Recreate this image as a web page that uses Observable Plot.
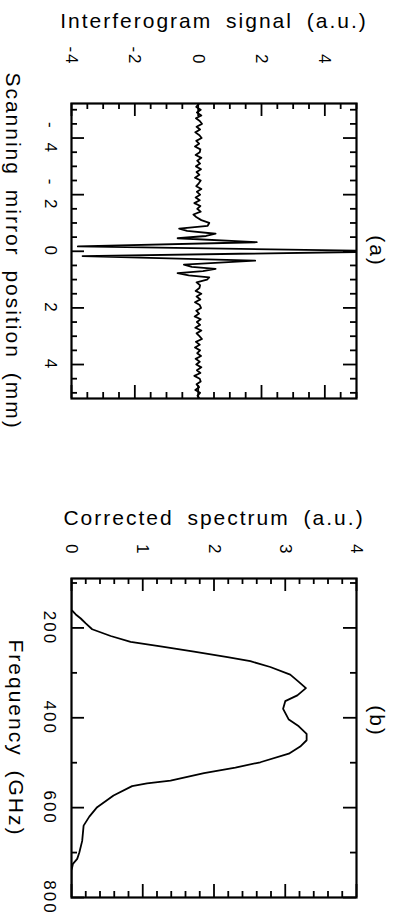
<!DOCTYPE html>
<html><head><meta charset="utf-8">
<script src="https://cdn.jsdelivr.net/npm/d3@7"></script>
<script src="https://cdn.jsdelivr.net/npm/@observablehq/plot@0.6"></script>
<style>
html,body{margin:0;padding:0;background:#fff;}
#chart svg{display:block;}
</style></head><body><div id="chart"></div>
<script>
// Panel (a): interferogram
const mirrorPositionMm = [
  -5.25,-5.2,-5.1,-5.0,-4.9,-4.8,-4.7,-4.6,-4.5,-4.4,-4.3,-4.2,-4.1,-4.0,-3.9,-3.8,-3.7,-3.6,-3.5,-3.4,-3.3,
  -3.2,-3.1,-3.0,-2.9,-2.8,-2.7,-2.6,-2.5,-2.4,-2.3,-2.2,-2.1,-2.0,-1.9,-1.8,-1.7,-1.6,-1.5,-1.4,-1.3,
  -1.2,-1.1,-1.0,-0.9,-0.8,-0.72,-0.62,-0.54,-0.46,-0.32,-0.17,0,0.17,0.33,0.47,0.55,0.62,0.7,0.77,0.85,0.92,1.0,1.1,1.2,
  1.3,1.4,1.5,1.6,1.7,1.8,1.9,2.0,2.1,2.2,2.3,2.4,2.5,2.6,2.7,2.8,2.9,3.0,3.1,3.2,
  3.3,3.4,3.5,3.6,3.7,3.8,3.9,4.0,4.1,4.2,4.3,4.4,4.5,4.6,4.7,4.8,4.9,5.0,5.1,5.2,5.25
];
const interferogramSignal = [
  0.0,0.02,-0.06,0.08,-0.04,0.1,-0.07,0.05,0.12,-0.05,0.06,-0.09,0.04,0.11,-0.06,0.03,-0.1,0.07,0.05,-0.08,0.1,
  -0.03,0.06,-0.07,0.09,-0.05,0.04,-0.1,0.08,0.02,-0.06,0.1,-0.04,0.06,-0.08,0.05,-0.12,0.07,-0.03,0.08,-0.15,
  -0.05,0.1,0.35,0.3,-0.6,-0.35,0.55,0.25,-0.65,1.85,-3.8,6.5,-3.65,1.8,-0.45,-0.2,0.55,0.15,-0.65,-0.3,0.35,0.28,-0.05,0.06,
  0.04,-0.08,0.1,-0.05,0.07,-0.1,0.05,0.09,-0.06,0.03,-0.11,0.08,-0.04,0.06,-0.09,0.1,-0.05,0.04,0.12,-0.07,
  0.05,-0.1,0.06,-0.03,0.09,-0.08,0.05,-0.06,0.1,-0.04,0.07,-0.12,0.05,0.08,-0.05,0.03,-0.09,0.06,-0.02,0.04,0.0
];
const signalTicks = [-4, -2, 0, 2, 4];
const signalTickLabels = ["-4", "-2", "0", "2", "4"];
const signalMinor = [-3.5,-3,-2.5,-1.5,-1,-0.5,0.5,1,1.5,2.5,3,3.5,4.5,5];
const positionTicks = [-4, -2, 0, 2, 4];
const positionTickLabels = ["- 4", "- 2", "0", "2", "4"];
const positionMinor = [-5,-4.5,-3.5,-3,-2.5,-1.5,-1,-0.5,0.5,1,1.5,2.5,3,3.5,4.5,5];

// Panel (b): corrected spectrum
const frequencyGHz = [
  90,160,170,179,190,203,218,231,241,253,265,274,287,304,320,334,350,363,380,404,419,436,450,
  464,480,499,511,523,540,546,552,573,599,620,640,674,700,714,725,740,800
];
const correctedSpectrum = [
  0,0.0,0.06,0.13,0.2,0.29,0.55,0.83,1.25,1.72,2.19,2.51,2.79,3.07,3.19,3.29,3.17,3.0,2.97,3.05,3.19,3.30,3.30,
  3.21,3.05,2.65,2.30,1.86,1.39,1.06,0.85,0.59,0.36,0.25,0.17,0.15,0.11,0.08,0.02,0,0
];
const spectrumTicks = [0, 1, 2, 3, 4];
const spectrumTickLabels = ["0", "1", "2", "3", "4"];
const spectrumMinor = [0.2,0.4,0.6,0.8,1.2,1.4,1.6,1.8,2.2,2.4,2.6,2.8,3.2,3.4,3.6,3.8];
const freqTicks = [200, 400, 600, 800];
const freqTickLabels = ["200", "400", "600", "800"];
const freqMinor = [100, 300, 500, 700];

const W = 402, ML = 71, MR = 46;
const FW = W - ML - MR;
const style = {fontFamily: "'Liberation Sans', Arial, sans-serif", letterSpacing: "2px", wordSpacing: "6px", background: "#fff", color: "#000", overflow: "visible"};
const MAJ = 13, MIN = 6, TW = 1.8;
const FS_TICK = 17, FS_TITLE = 21;

function tickMarks(xMaj, xMin, yMaj, yMin, FH) {
  const m = [];
  for (const [arr, len] of [[xMaj, MAJ], [xMin, MIN]]) {
    m.push(Plot.ruleX(arr, {x: d => d, insetBottom: FH - len, strokeWidth: TW}));
    m.push(Plot.ruleX(arr, {x: d => d, insetTop: FH - len, strokeWidth: TW}));
  }
  for (const [arr, len] of [[yMaj, MAJ], [yMin, MIN]]) {
    m.push(Plot.ruleY(arr, {y: d => d, insetRight: FW - len, strokeWidth: TW}));
    m.push(Plot.ruleY(arr, {y: d => d, insetLeft: FW - len, strokeWidth: TW}));
  }
  return m;
}

// Panel A
const HA = 470, MTA = 103, MBA = 72, FHA = HA - MTA - MBA;
const plotA = Plot.plot({
  width: W, height: HA, marginLeft: ML, marginRight: MR, marginTop: MTA, marginBottom: MBA,
  style,
  x: {domain: [-4, 5], axis: null},
  y: {domain: [-5.22, 5.2], reverse: true, axis: null},
  marks: [
    ...tickMarks(signalTicks, signalMinor, positionTicks, positionMinor, FHA),
    Plot.line(d3.range(mirrorPositionMm.length), {x: i => interferogramSignal[i], y: i => mirrorPositionMm[i], stroke: "#000", strokeWidth: 1.8, clip: true}),
    Plot.frame({stroke: "#000", strokeWidth: 2.2}),
    Plot.text(signalTicks, {x: d => d, text: (d, i) => signalTickLabels[i], frameAnchor: "top", dy: -38, rotate: 90, textAnchor: "end", lineAnchor: "middle", fontSize: FS_TICK}),
    Plot.text(positionTicks, {y: d => d, text: (d, i) => positionTickLabels[i], frameAnchor: "left", dx: -21, rotate: 90, textAnchor: "middle", lineAnchor: "middle", fontSize: FS_TICK}),
    Plot.text(["Interferogram signal (a.u.)"], {text: d => d, frameAnchor: "top", dy: -76, textAnchor: "middle", lineAnchor: "bottom", fontSize: FS_TITLE}),
    Plot.text(["Scanning mirror position (mm)"], {text: d => d, frameAnchor: "left", dx: -59, rotate: 90, textAnchor: "middle", lineAnchor: "middle", fontSize: FS_TITLE}),
    Plot.text(["(a)"], {text: d => d, frameAnchor: "right", dx: 20.5, rotate: 90, textAnchor: "middle", lineAnchor: "middle", fontSize: FS_TITLE})
  ]
});

// Panel B
const HB = 446, MTB = 108, MBB = 19, FHB = HB - MTB - MBB;
const plotB = Plot.plot({
  width: W, height: HB, marginLeft: ML, marginRight: MR, marginTop: MTB, marginBottom: MBB,
  style,
  x: {domain: [0, 4], axis: null},
  y: {domain: [90, 800], reverse: true, axis: null},
  marks: [
    ...tickMarks(spectrumTicks, spectrumMinor, freqTicks, freqMinor, FHB),
    Plot.line(d3.range(frequencyGHz.length), {x: i => correctedSpectrum[i], y: i => frequencyGHz[i], stroke: "#000", strokeWidth: 1.8, clip: true}),
    Plot.frame({stroke: "#000", strokeWidth: 2.2}),
    Plot.text(spectrumTicks, {x: d => d, text: (d, i) => spectrumTickLabels[i], frameAnchor: "top", dy: -23, rotate: 90, textAnchor: "end", lineAnchor: "middle", fontSize: FS_TICK}),
    Plot.text(freqTicks, {y: d => d, text: (d, i) => freqTickLabels[i], frameAnchor: "left", dx: -22, rotate: 90, textAnchor: "middle", lineAnchor: "middle", fontSize: FS_TICK}),
    Plot.text(["Corrected spectrum (a.u.)"], {text: d => d, frameAnchor: "top", dy: -54, textAnchor: "middle", lineAnchor: "bottom", fontSize: FS_TITLE}),
    Plot.text(["Frequency (GHz)"], {text: d => d, frameAnchor: "left", dx: -55.5, rotate: 90, textAnchor: "middle", lineAnchor: "middle", fontSize: FS_TITLE}),
    Plot.text(["(b)"], {text: d => d, frameAnchor: "right", dx: 20.5, dy: -17, rotate: 90, textAnchor: "middle", lineAnchor: "middle", fontSize: FS_TITLE})
  ]
});

const chart = document.getElementById("chart");
chart.append(plotA, plotB);
</script>
</body></html>
